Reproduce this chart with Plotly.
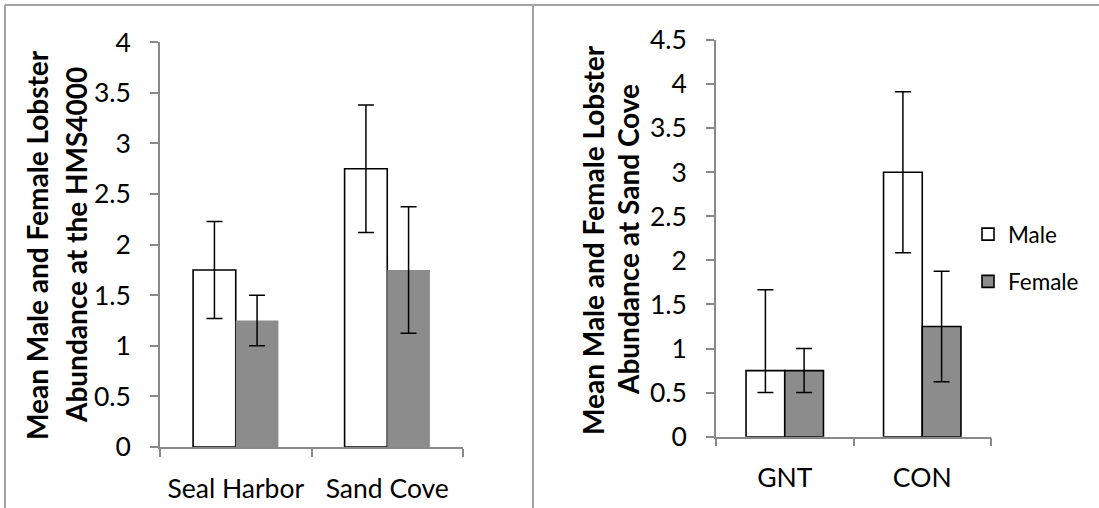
import plotly.graph_objects as go

# ---- data ----
sites_left = ["Seal Harbor", "Sand Cove"]
male_left = [1.75, 2.75]
male_left_err = [0.48, 0.63]
female_left = [1.25, 1.75]
female_left_err = [0.25, 0.625]

sites_right = ["GNT", "CON"]
male_right = [0.75, 3.0]
male_right_err_up = [0.917, 0.913]
male_right_err_down = [0.25, 0.913]
female_right = [0.75, 1.25]
female_right_err = [0.25, 0.628]

left_title = ["Mean Male and Female Lobster", "Abundance at the HMS4000"]
right_title = ["Mean Male and Female Lobster", "Abundance at Sand Cove"]

W, H = 1099, 508
FONT = "Lato"
GREY = "#8c8c8c"
AXIS = "#898989"

def px(x):
    return x / W

def py(y):
    return 1 - y / H

fig = go.Figure()

err_style = dict(type="data", color="black", thickness=1.5, width=8, visible=True)

fig.add_trace(go.Bar(x=sites_left, y=male_left, name="Male", showlegend=False,
                     marker=dict(color="white", line=dict(color="black", width=1.6)),
                     error_y=dict(array=male_left_err, **err_style),
                     xaxis="x", yaxis="y"))
fig.add_trace(go.Bar(x=sites_left, y=female_left, name="Female", showlegend=False,
                     marker=dict(color=GREY, line=dict(color=GREY, width=0)),
                     error_y=dict(array=female_left_err, **err_style),
                     xaxis="x", yaxis="y"))
fig.add_trace(go.Bar(x=sites_right, y=male_right, name="Male", legendgroup="m",
                     marker=dict(color="white", line=dict(color="black", width=1.6)),
                     error_y=dict(array=male_right_err_up, arrayminus=male_right_err_down,
                                  symmetric=False, **err_style),
                     xaxis="x2", yaxis="y2"))
fig.add_trace(go.Bar(x=sites_right, y=female_right, name="Female", legendgroup="f",
                     marker=dict(color=GREY, line=dict(color="black", width=1.6)),
                     error_y=dict(array=female_right_err, **err_style),
                     xaxis="x2", yaxis="y2"))

tickfont = dict(family=FONT, size=26.5, color="black")
xcommon = dict(type="category", tickson="boundaries", ticks="outside", ticklen=8,
               tickcolor=AXIS, tickwidth=1.5, showline=True, linecolor=AXIS, linewidth=1.5,
               showgrid=False, zeroline=False, tickfont=tickfont, ticklabelstandoff=17,
               range=[-0.5, 1.5], fixedrange=True, automargin=False)
ycommon = dict(ticks="outside", ticklen=8, tickcolor=AXIS, tickwidth=1.5, showline=True,
               linecolor=AXIS, linewidth=1.5, showgrid=False, zeroline=False,
               tickfont=tickfont, ticklabelstandoff=14, dtick=0.5, tickformat="~g",
               automargin=False)

fig.update_layout(
    width=W, height=H,
    margin=dict(l=0, r=0, t=0, b=0, pad=0, autoexpand=False),
    paper_bgcolor="white", plot_bgcolor="white",
    barmode="group", bargap=0.437, bargroupgap=0,
    font=dict(family=FONT, color="black"),
    xaxis=dict(domain=[px(160), px(463)], anchor="y", **xcommon),
    yaxis=dict(domain=[py(447), py(42.3)], anchor="x", range=[0, 4], **ycommon),
    xaxis2=dict(domain=[px(716), px(991)], anchor="y2", **xcommon),
    yaxis2=dict(domain=[py(436.7), py(40)], anchor="x2", range=[0, 4.5], **ycommon),
    legend=dict(x=px(968), y=py(213), xanchor="left", yanchor="top",
                font=dict(family=FONT, size=22.5, color="black"),
                traceorder="grouped", tracegroupgap=15, bgcolor="rgba(0,0,0,0)"),
    showlegend=True,
)

# titles as rotated annotations
def add_title(lines, xs, yc):
    for t, x in zip(lines, xs):
        fig.add_annotation(text=t, x=px(x), y=py(yc), xref="paper", yref="paper",
                           textangle=-90, showarrow=False, xanchor="center", yanchor="middle",
                           font=dict(family=FONT, size=28, color="black", weight="bold"))

add_title(left_title, [37, 76], 245)
add_title(right_title, [593, 628], 240)

# outer frame lines
line = dict(color="#a3a3a3", width=2)
fig.add_shape(type="line", xref="paper", yref="paper", x0=px(5), x1=1, y0=py(5), y1=py(5), line=line)
fig.add_shape(type="line", xref="paper", yref="paper", x0=px(5), x1=px(5), y0=py(5), y1=0, line=line)
fig.add_shape(type="line", xref="paper", yref="paper", x0=px(533), x1=px(533), y0=py(5), y1=0, line=line)

fig.write_html("out.html",
               config={"displayModeBar": False},
               post_script="document.body.style.margin='0';document.body.style.padding='0';"
                           "document.body.style.overflow='hidden';")
